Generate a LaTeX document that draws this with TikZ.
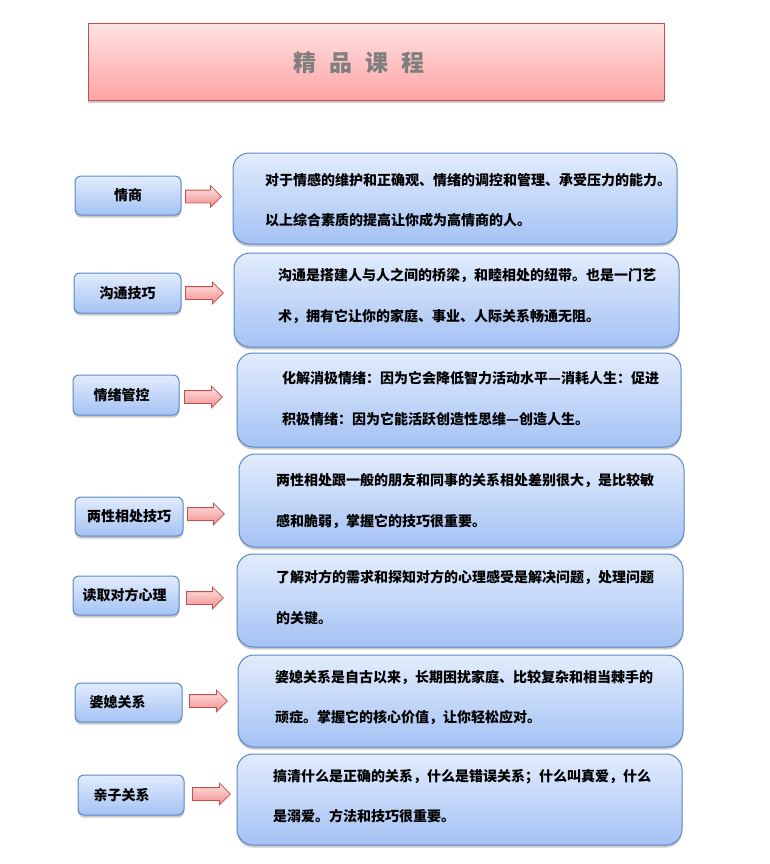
\documentclass[tikz,border=0pt]{standalone}
\usepackage{fontspec}
\newfontfamily\cjk{Noto Sans CJK SC}
\usetikzlibrary{shapes.arrows,shadows}
\definecolor{boxtop}{HTML}{E2ECFC}
\definecolor{boxbot}{HTML}{A4C2F4}
\definecolor{boxline}{HTML}{5B87C7}
\definecolor{titletop}{HTML}{FFE2E2}
\definecolor{titlebot}{HTML}{FFA3A3}
\definecolor{titleline}{HTML}{C0504D}
\definecolor{arrtop}{HTML}{FFE4E4}
\definecolor{arrbot}{HTML}{F28C8C}
\definecolor{titletext}{HTML}{7F7F7F}
\begin{document}
\begin{tikzpicture}[x=1pt,y=-1pt,
 shad/.style={drop shadow={opacity=0.3,shadow xshift=0pt,shadow yshift=-2.5pt,fill=black!70}},
 topic/.style={draw=boxline,line width=1pt,rounded corners=6pt,top color=boxtop,bottom color=boxbot,shad,
   font=\cjk\bfseries\fontsize{14}{16}\selectfont,inner sep=0pt,minimum width=106pt,minimum height=39pt},
 desc/.style={draw=boxline,line width=1pt,rounded corners=16pt,top color=boxtop,bottom color=boxbot,shad,inner sep=0pt},
 txt/.style={font=\cjk\bfseries\fontsize{14}{40.5}\selectfont,align=left,anchor=west,inner sep=0pt},
 blockarrow/.style={single arrow,draw=titleline,line width=0.8pt,top color=arrtop,bottom color=arrbot,
   inner xsep=0pt,inner ysep=6pt,text height=0pt,text depth=0pt,single arrow head extend=4.5pt,anchor=tail},
 titlebox/.style={draw=titleline,line width=1pt,top color=titletop,bottom color=titlebot,shad,inner sep=0pt,
   minimum width=576pt,minimum height=77pt,font=\cjk\bfseries\fontsize{23}{23}\selectfont,text=titletext}]
\useasboundingbox (0,0) rectangle (770,864);

% title
\node[titlebox] (title) at (376,62.5) {\hspace*{-34pt}精\hspace{13pt}品\hspace{13pt}课\hspace{13pt}程};

% left topics
\node[topic] (t1) at (128,195.5) {情商};
\node[topic,minimum width=107pt,minimum height=40pt] (t2) at (127.5,293) {沟通技巧};
\node[topic,minimum height=40pt] (t3) at (126,395) {\hspace*{-9pt}情绪管控};
\node[topic,minimum width=108pt] (t4) at (129,516.5) {两性相处技巧};
\node[topic] (t5) at (126,595.5) {\hspace*{-3pt}读取对方心理};
\node[topic,minimum width=107pt] (t6) at (128.5,702.5) {\hspace*{-22pt}婆媳关系};
\node[topic,minimum height=40pt] (t7) at (131,795) {\hspace*{-19pt}亲子关系};

% arrows
\node[blockarrow,minimum height=36pt] (a1) at (185,196.5) {};
\node[blockarrow,minimum height=38pt] (a2) at (185,293) {};
\node[blockarrow,minimum height=38pt] (a3) at (184,397) {};
\node[blockarrow,minimum height=37pt] (a4) at (187,514) {};
\node[blockarrow,minimum height=37pt] (a5) at (186,598) {};
\node[blockarrow,minimum height=38pt] (a6) at (189,701) {};
\node[blockarrow,minimum height=38pt] (a7) at (192,794) {};

% description boxes
\node[desc,minimum width=444pt,minimum height=91pt] (d1) at (455,198.5) {};
\node[desc,minimum width=445pt,minimum height=94pt] (d2) at (456.5,300) {};
\node[desc,minimum width=444pt,minimum height=94pt] (d3) at (459,400) {};
\node[desc,minimum width=445pt,minimum height=93pt] (d4) at (461.5,500.5) {};
\node[desc,minimum width=446pt,minimum height=93pt] (d5) at (460,600.5) {};
\node[desc,minimum width=445pt,minimum height=92pt] (d6) at (460.5,701) {};
\node[desc,minimum width=445pt,minimum height=91pt] (d7) at (459.5,799.5) {};

% description texts
\node[txt] (x1) at (265,200) {对于情感的维护和正确观、情绪的调控和管理、承受压力的能力。\\以上综合素质的提高让你成为高情商的人。};
\node[txt] (x2) at (278,296) {沟通是搭建人与人之间的桥梁，和睦相处的纽带。也是一门艺\\术，拥有它让你的家庭、事业、人际关系畅通无阻。};
\node[txt] (x3) at (282,398.5) {化解消极情绪：因为它会降低智力活动水平—消耗人生：促进\\积极情绪：因为它能活跃创造性思维—创造人生。};
\node[txt] (x4) at (276,501) {两性相处跟一般的朋友和同事的关系相处差别很大，是比较敏\\感和脆弱，掌握它的技巧很重要。};
\node[txt] (x5) at (276,597.5) {了解对方的需求和探知对方的心理感受是解决问题，处理问题\\的关键。};
\node[txt] (x6) at (275,697.5) {婆媳关系是自古以来，长期困扰家庭、比较复杂和相当棘手的\\顽症。掌握它的核心价值，让你轻松应对。};
\node[txt] (x7) at (273,796) {搞清什么是正确的关系，什么是错误关系；什么叫真爱，什么\\是溺爱。方法和技巧很重要。};
\end{tikzpicture}
\end{document}
